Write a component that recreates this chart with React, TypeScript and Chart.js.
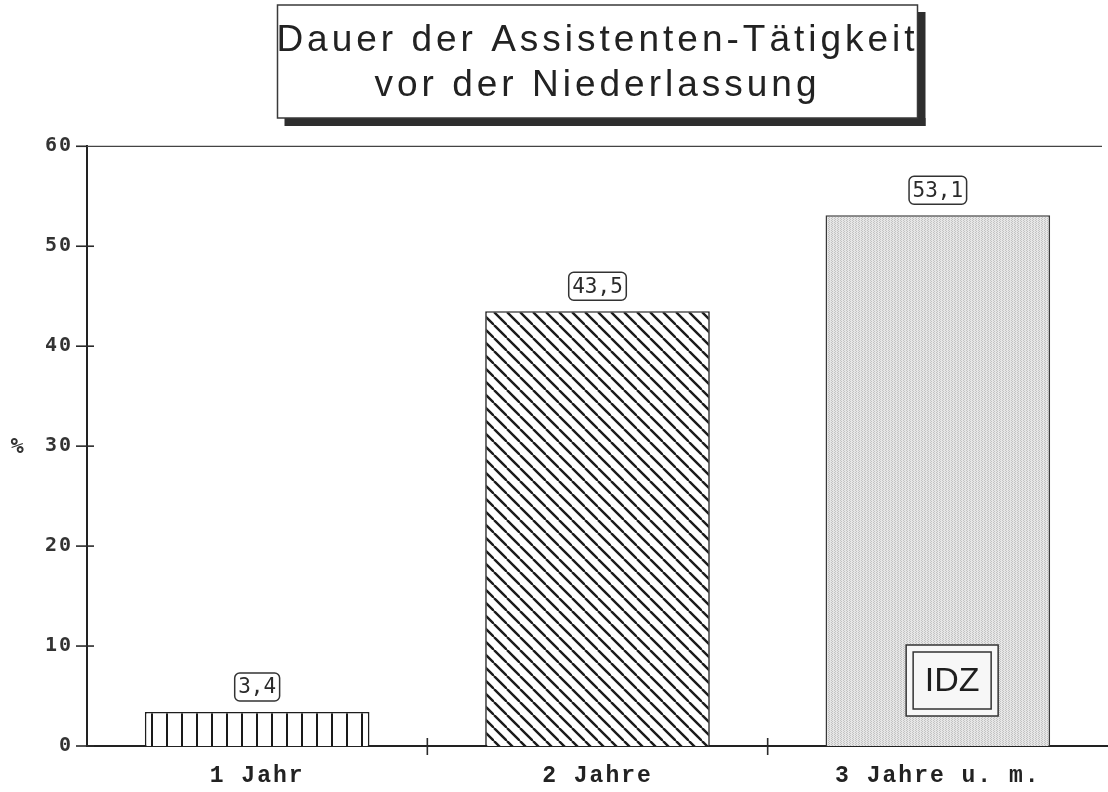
import React, { useEffect, useRef } from "react";
import { Chart, registerables } from "chart.js";

Chart.register(...registerables);

const titleLines = ["Dauer der Assistenten-Tätigkeit", "vor der Niederlassung"];
const categories = ["1 Jahr", "2 Jahre", "3 Jahre u. m."];
const values = [3.4, 43.5, 53.1];
const valueLabels = ["3,4", "43,5", "53,1"];
const yMin = 0;
const yMax = 60;
const yStep = 10;
const yAxisTitle = "%";
const badgeText = "IDZ";

function makeTile(w: number, h: number, paint: (g: CanvasRenderingContext2D, w: number, h: number) => void) {
  const c = document.createElement("canvas");
  c.width = w;
  c.height = h;
  const g = c.getContext("2d") as CanvasRenderingContext2D;
  paint(g, w, h);
  return g.createPattern(c, "repeat") as CanvasPattern;
}

function verticalPattern() {
  return makeTile(15, 10, (g, w, h) => {
    g.fillStyle = "#ffffff";
    g.fillRect(0, 0, w, h);
    g.fillStyle = "#1a1a1a";
    g.fillRect(1, 0, 2, h);
  });
}

function diagonalPattern() {
  return makeTile(13, 13, (g, w, h) => {
    g.fillStyle = "#ffffff";
    g.fillRect(0, 0, w, h);
    g.strokeStyle = "#1a1a1a";
    g.lineWidth = 2.4;
    for (const x0 of [-w, 0, w]) {
      g.beginPath();
      g.moveTo(x0, 0);
      g.lineTo(x0 + w, h);
      g.stroke();
    }
  });
}

function stipplePattern() {
  return makeTile(6, 6, (g, w, h) => {
    g.fillStyle = "#e6e6e6";
    g.fillRect(0, 0, w, h);
    g.fillStyle = "#c2c2c2";
    for (let y = 0; y < h; y++) {
      for (let x = (y % 2) * 1; x < w; x += 3) {
        g.fillRect(x, y, 1, 1);
      }
    }
  });
}

const decor = {
  id: "decor",
  beforeDraw(chart: any) {
    const { ctx, chartArea } = chart;
    const cx = (chartArea.left + chartArea.right) / 2;
    const L = cx - 320;
    const R = cx + 320;
    const T = 5;
    const B = 118;
    ctx.save();
    ctx.fillStyle = "#2e2e2e";
    ctx.fillRect(L + 7, B, R - L + 1, 8);
    ctx.fillRect(R, T + 7, 8, B - T + 1);
    ctx.fillStyle = "#ffffff";
    ctx.fillRect(L, T, R - L, B - T);
    ctx.strokeStyle = "#3a3a3a";
    ctx.lineWidth = 1.5;
    ctx.strokeRect(L, T, R - L, B - T);
    ctx.restore();
    ctx.letterSpacing = "4px";
  },
  beforeDatasetsDraw(chart: any) {
    chart.ctx.letterSpacing = "0px";
  },
  afterDatasetsDraw(chart: any) {
    const { ctx, chartArea, scales } = chart;
    const xs = scales.x;
    const ys = scales.y;
    const meta = chart.getDatasetMeta(0);
    ctx.save();
    ctx.letterSpacing = "0px";

    // top line
    ctx.strokeStyle = "#444";
    ctx.lineWidth = 1.2;
    ctx.beginPath();
    ctx.moveTo(chartArea.left, chartArea.top);
    ctx.lineTo(chartArea.right - 6, chartArea.top);
    ctx.stroke();

    // y tick marks crossing the axis
    ctx.strokeStyle = "#2a2a2a";
    ctx.lineWidth = 1.6;
    for (let v = yMin; v <= yMax; v += yStep) {
      const y = ys.getPixelForValue(v);
      ctx.beginPath();
      ctx.moveTo(chartArea.left - 11, y);
      ctx.lineTo(v === yMax ? chartArea.left : chartArea.left + 7, y);
      ctx.stroke();
    }
    // x category boundaries
    for (let i = 0; i < categories.length - 1; i++) {
      const xb = (xs.getPixelForValue(i) + xs.getPixelForValue(i + 1)) / 2;
      ctx.beginPath();
      ctx.moveTo(xb, chartArea.bottom - 8);
      ctx.lineTo(xb, chartArea.bottom + 9);
      ctx.stroke();
    }

    // axis title
    ctx.fillStyle = "#333";
    ctx.font = "bold 22px 'DejaVu Sans Mono'";
    ctx.textAlign = "center";
    ctx.textBaseline = "middle";
    ctx.fillText(yAxisTitle, 17, ys.getPixelForValue((yMin + yMax) / 2) + 1);

    // value label boxes
    ctx.font = "21px 'DejaVu Sans Mono'";
    meta.data.forEach((bar: any, i: number) => {
      const txt = valueLabels[i];
      const tw = ctx.measureText(txt).width;
      const bw = tw + 7;
      const bh = 28;
      const bx = bar.x - bw / 2;
      const by = bar.y - 11 - bh;
      ctx.fillStyle = "#ffffff";
      ctx.strokeStyle = "#333";
      ctx.lineWidth = 1.5;
      ctx.beginPath();
      (ctx as any).roundRect(bx, by, bw, bh, 5);
      ctx.fill();
      ctx.stroke();
      ctx.fillStyle = "#2a2a2a";
      ctx.fillText(txt, bar.x, by + bh / 2 + 1);
    });

    // IDZ badge inside the last bar
    const last = meta.data[meta.data.length - 1];
    const barRight = last.x + last.width / 2;
    const oR = barRight - 52;
    const oL = oR - 92;
    const oB = chartArea.bottom - 30;
    const oT = oB - 71;
    ctx.fillStyle = "#f7f7f7";
    ctx.fillRect(oL, oT, oR - oL, oB - oT);
    ctx.strokeStyle = "#333";
    ctx.lineWidth = 1.5;
    ctx.strokeRect(oL, oT, oR - oL, oB - oT);
    ctx.strokeRect(oL + 7, oT + 7, oR - oL - 14, oB - oT - 14);
    ctx.fillStyle = "#1e1e1e";
    ctx.font = "34px 'Liberation Sans'";
    ctx.fillText(badgeText, (oL + oR) / 2, (oT + oB) / 2 + 1);
    ctx.restore();

    ctx.letterSpacing = "2px";
  },
  afterDraw(chart: any) {
    chart.ctx.letterSpacing = "0px";
  },
};

export default function App() {
  const ref = useRef<HTMLCanvasElement | null>(null);

  useEffect(() => {
    if (!ref.current) return;
    const chart = new Chart(ref.current, {
      type: "bar",
      data: {
        labels: categories,
        datasets: [
          {
            data: values,
            backgroundColor: [verticalPattern(), diagonalPattern(), stipplePattern()],
            borderColor: ["#1e1e1e", "#1e1e1e", "#3a3a3a"],
            borderWidth: 1.6,
            categoryPercentage: 0.66,
            barPercentage: 1,
          },
        ],
      },
      options: {
        responsive: false,
        animation: false,
        devicePixelRatio: 1,
        layout: { padding: { top: 0, right: 0, bottom: 0, left: 0 } },
        plugins: {
          legend: { display: false },
          tooltip: { enabled: false },
          title: {
            display: true,
            fullSize: false,
            text: titleLines,
            color: "#222",
            font: { family: "'Liberation Sans'", size: 37, weight: "normal", lineHeight: 1.22 },
            padding: { top: 18, bottom: 38 },
          },
        },
        scales: {
          x: {
            type: "category",
            offset: true,
            grid: { display: false, drawTicks: false },
            border: { display: true, color: "#222", width: 2 },
            ticks: {
              z: 1,
              color: "#222",
              padding: 16,
              font: { family: "'Liberation Mono'", size: 23, weight: "bold" },
            },
            afterFit: (s: any) => {
              s.height = 46;
            },
          },
          y: {
            min: yMin,
            max: yMax,
            grid: { display: false, drawTicks: false },
            border: { display: true, color: "#222", width: 2 },
            ticks: {
              z: 1,
              stepSize: yStep,
              color: "#333",
              padding: 14,
              font: { family: "'DejaVu Sans Mono'", size: 20, weight: "bold" },
            },
            afterFit: (s: any) => {
              s.width = 87;
            },
          },
        },
      },
      plugins: [decor],
    } as any);
    return () => chart.destroy();
  }, []);

  return (
    <div style={{ position: "absolute", left: 0, top: 0, width: 1108, height: 792, background: "#fff" }}>
      <canvas ref={ref} width={1108} height={792} style={{ display: "block" }} />
    </div>
  );
}
